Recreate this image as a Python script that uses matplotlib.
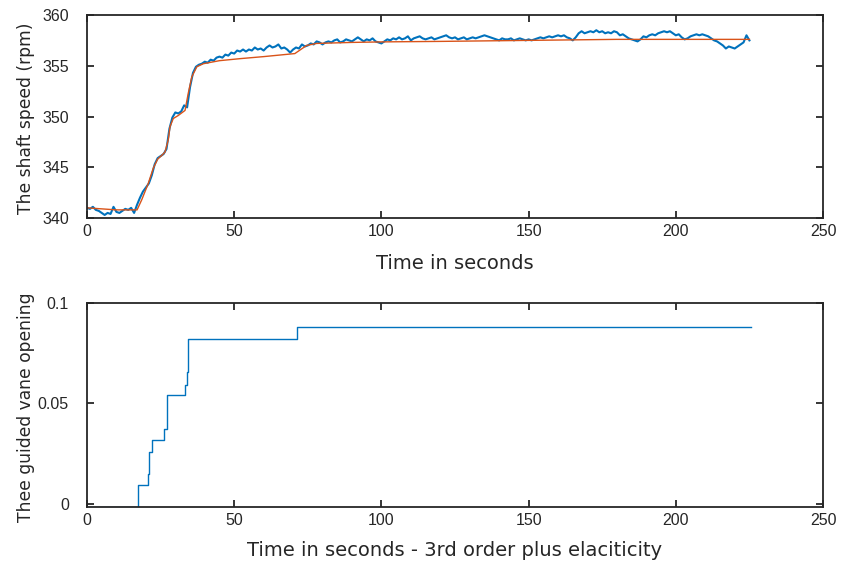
import numpy as np
import matplotlib
matplotlib.use("Agg")
import matplotlib.pyplot as plt

# ---- data ----
speed_measured = [
    341.0, 340.9, 341.1, 340.8, 340.7, 340.5, 340.3, 340.5, 340.4, 341.1,
    340.6, 340.5, 340.7, 340.9, 340.8, 341.0, 340.5, 341.3, 342.0, 342.6,
    343.0, 343.4, 344.2, 345.3, 345.9, 346.1, 346.3, 346.8, 348.8, 349.9,
    350.4, 350.3, 350.5, 351.1, 350.9, 352.9, 354.3, 354.9, 355.1, 355.2,
    355.4, 355.3, 355.6, 355.5, 355.8, 355.9, 355.8, 356.1, 356.0, 356.3,
    356.2, 356.5, 356.4, 356.6, 356.4, 356.6, 356.5, 356.8, 356.6, 356.7,
    356.5, 356.8, 357.0, 356.8, 356.9, 357.1, 356.7, 356.8, 356.6, 356.3,
    356.6, 356.8, 356.7, 357.1, 356.9, 357.0, 357.2, 357.1, 357.4, 357.3,
    357.1, 357.3, 357.4, 357.3, 357.5, 357.6, 357.3, 357.4, 357.6, 357.5,
    357.4, 357.6, 357.8, 357.6, 357.4, 357.6, 357.5, 357.7, 357.4, 357.3,
    357.2, 357.4, 357.6, 357.5, 357.7, 357.6, 357.8, 357.6, 357.7, 357.9,
    357.5, 357.7, 357.8, 357.9, 357.7, 357.6, 357.7, 357.8, 357.6, 357.7,
    357.8, 357.9, 358.0, 357.8, 357.7, 357.8, 357.6, 357.7, 357.8, 357.6,
    357.7, 357.8, 357.7, 357.8, 357.9, 358.0, 357.9, 357.8, 357.7, 357.6,
    357.5, 357.7, 357.6, 357.6, 357.7, 357.5, 357.6, 357.7, 357.6, 357.5,
    357.6, 357.5, 357.6, 357.7, 357.8, 357.7, 357.8, 357.9, 357.8, 357.9,
    358.0, 357.9, 358.0, 357.8, 357.7, 357.5, 357.8, 358.2, 358.4, 358.2,
    358.3, 358.4, 358.3, 358.5, 358.3, 358.4, 358.2, 358.3, 358.2, 358.4,
    358.3, 358.0, 358.1, 357.9, 357.7, 357.6, 357.5, 357.4, 357.6, 357.9,
    357.8, 358.0, 358.1, 358.0, 358.2, 358.3, 358.4, 358.3, 358.4, 358.2,
    358.0, 358.1, 357.8, 357.6, 357.7, 357.9, 358.0, 358.1, 358.0, 358.1,
    358.0, 357.9, 357.7, 357.5, 357.4, 357.2, 357.0, 356.7, 356.9, 356.8,
    356.7, 356.9, 357.1, 357.3, 358.0, 357.5,
]
time_measured = np.arange(len(speed_measured))

model_time = [0, 5, 10, 15, 17, 18.6, 20.8, 22.5, 24, 25.5, 26.5, 27.6, 28.2,
              29.3, 31, 33.3, 34.4, 35.6, 37.3, 39.5, 45, 52, 60, 70.6, 74.6,
              78, 90, 100, 120, 150, 180, 200, 225]
model_speed = [341.0, 340.9, 340.8, 340.8, 340.8, 341.8, 343.4, 344.9, 345.8,
               346.2, 346.5, 347.7, 349.0, 349.8, 350.1, 350.6, 352.3, 353.9,
               354.9, 355.2, 355.5, 355.7, 355.9, 356.2, 357.0, 357.2, 357.3,
               357.35, 357.4, 357.5, 357.6, 357.6, 357.6]

vane_time = [0, 17.2, 20.6, 21.1, 22.2, 26.3, 27.1, 33.4, 33.9, 34.2, 71.4, 225.5]
vane_open = [-0.0014, 0.0094, 0.015, 0.026, 0.0317, 0.0373, 0.054, 0.0593,
             0.0655, 0.082, 0.0878, 0.0878]

xticks = [0, 50, 100, 150, 200, 250]
yticks_top = [340, 345, 350, 355, 360]
yticks_bot = [0, 0.05, 0.1]
ylabels_bot = ["0", "0.05", "0.1"]

# ---- style ----
plt.rcParams['font.family'] = ['Liberation Sans', 'DejaVu Sans']
axc = '#262626'
blue = '#0072BD'
orange = '#D95319'
label_font = dict(family=['DejaVu Sans'], color=axc)

fig = plt.figure(figsize=(8.43, 5.62), dpi=100)
ax1 = fig.add_axes([0.1032, 0.6121, 0.8731, 0.3612])
ax2 = fig.add_axes([0.1032, 0.0979, 0.8731, 0.3630])

def style(ax):
    for s in ax.spines.values():
        s.set_color(axc)
        s.set_linewidth(1.3)
    ax.tick_params(direction='in', length=5, width=1.3, colors=axc,
                   labelsize=11.5, top=True, right=True, labelcolor=axc)
    ax.tick_params(axis='x', pad=4)
    ax.tick_params(axis='y', pad=13)
    ax.set_xlim(0, 250)
    ax.set_xticks(xticks)

ax1.plot(time_measured, speed_measured, color=blue, lw=1.5)
ax1.plot(model_time, model_speed, color=orange, lw=1.0)
style(ax1)
ax1.set_ylim(340, 360)
ax1.set_yticks(yticks_top)
ax1.set_xlabel("Time in seconds", fontsize=14, labelpad=11, **label_font)
ax1.set_ylabel("The shaft speed (rpm)", fontsize=12.3, **label_font)
ax1.yaxis.set_label_coords(-0.0705, 0.49)

ax2.plot(vane_time, vane_open, color=blue, lw=1.0, drawstyle='steps-post')
style(ax2)
ax2.set_ylim(-0.0015, 0.1)
ax2.set_yticks(yticks_bot)
ax2.set_yticklabels(ylabels_bot)
ax2.set_xlabel("Time in seconds - 3rd order plus elaciticity", fontsize=14,
               labelpad=10, **label_font)
ax2.set_ylabel("Thee guided vane opening", fontsize=12.3, **label_font)
ax2.yaxis.set_label_coords(-0.0705, 0.49)

fig.savefig("out.png", dpi=100)
